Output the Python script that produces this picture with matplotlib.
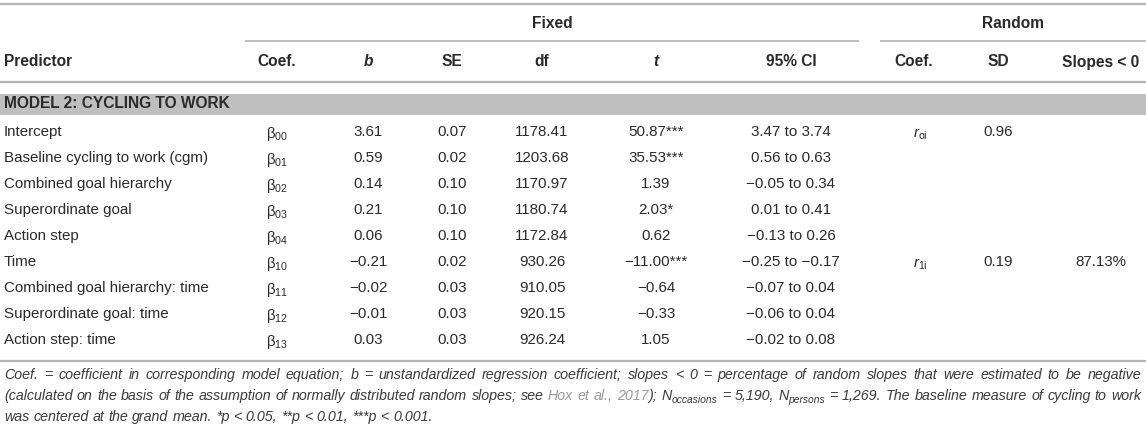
import matplotlib
matplotlib.use("Agg")
import matplotlib.pyplot as plt

W, H = 1146, 432

predictors = ["Intercept", "Baseline cycling to work (cgm)", "Combined goal hierarchy",
              "Superordinate goal", "Action step", "Time", "Combined goal hierarchy: time",
              "Superordinate goal: time", "Action step: time"]
coef_idx = ["00", "01", "02", "03", "04", "10", "11", "12", "13"]
b_vals = ["3.61", "0.59", "0.14", "0.21", "0.06", "\u22120.21", "\u22120.02", "\u22120.01", "0.03"]
se_vals = ["0.07", "0.02", "0.10", "0.10", "0.10", "0.02", "0.03", "0.03", "0.03"]
df_vals = ["1178.41", "1203.68", "1170.97", "1180.74", "1172.84", "930.26", "910.05", "920.15", "926.24"]
t_vals = ["50.87***", "35.53***", "1.39", "2.03*", "0.62", "\u221211.00***", "\u22120.64", "\u22120.33", "1.05"]
ci_vals = ["3.47 to 3.74", "0.56 to 0.63", "\u22120.05 to 0.34", "0.01 to 0.41", "\u22120.13 to 0.26",
           "\u22120.25 to \u22120.17", "\u22120.07 to 0.04", "\u22120.06 to 0.04", "\u22120.02 to 0.08"]
rand_coef = ["oi", "", "", "", "", "1i", "", "", ""]
sd_vals = ["0.96", "", "", "", "", "0.19", "", "", ""]
slopes_vals = ["", "", "", "", "", "87.13%", "", "", ""]

section_title = "MODEL 2: CYCLING TO WORK"

plt.rcParams["font.family"] = ["Liberation Sans", "DejaVu Sans"]
plt.rcParams["mathtext.fontset"] = "custom"
plt.rcParams["mathtext.rm"] = "Liberation Sans"
plt.rcParams["mathtext.it"] = "Liberation Sans:italic"
plt.rcParams["mathtext.default"] = "regular"

TXT = "#2a2a2a"
LINE = "#b3b3b3"
FS = 10.9
FSB = 11.2

fig = plt.figure(figsize=(W / 100, H / 100), dpi=100)
ax = fig.add_axes([0, 0, 1, 1])
ax.set_xlim(0, W)
ax.set_ylim(H, 0)
ax.axis("off")

# rules and section band
ax.plot([0, W], [4, 4], color=LINE, lw=1.6, solid_capstyle="butt")
ax.plot([245, 859], [41, 41], color=LINE, lw=1.2, solid_capstyle="butt")
ax.plot([880, W], [41, 41], color=LINE, lw=1.2, solid_capstyle="butt")
ax.plot([0, W], [81.5, 81.5], color=LINE, lw=1.6, solid_capstyle="butt")
ax.plot([0, W], [361, 361], color=LINE, lw=1.6, solid_capstyle="butt")
ax.fill_between([0, W], 93.5, 115, color="#bfbfbf", lw=0)

# headers
ax.text(552, 23, "Fixed", ha="center", va="center", fontsize=FSB, weight="bold", color=TXT)
ax.text(1013, 23, "Random", ha="center", va="center", fontsize=FSB, weight="bold", color=TXT)
hy = 62
ax.text(4, hy, "Predictor", ha="left", va="center", fontsize=FSB, weight="bold", color=TXT)
cols = {"coef": 277, "b": 368, "se": 452, "df": 542, "t": 656, "ci": 791,
        "rc": 914, "sd": 998, "sl": 1101}
hdr = [("coef", "Coef.", "normal"), ("b", "b", "italic"), ("se", "SE", "normal"),
       ("df", "df", "normal"), ("t", "t", "italic"), ("ci", "95% CI", "normal"),
       ("rc", "Coef.", "normal"), ("sd", "SD", "normal"), ("sl", "Slopes < 0", "normal")]
for key, label, style in hdr:
    ax.text(cols[key], hy, label, ha="center", va="center", fontsize=FSB,
            weight="bold", style=style, color=TXT)

ax.text(4, 104, section_title, ha="left", va="center", fontsize=FSB, weight="bold", color=TXT)

# body rows
y0, dy = 132, 26
for i, name in enumerate(predictors):
    y = y0 + i * dy
    ax.text(4, y, name, ha="left", va="center", fontsize=FS, color=TXT)
    ax.text(cols["coef"], y + 2, r"$\beta_{%s}$" % coef_idx[i], ha="center", va="center",
            fontsize=FS, color=TXT)
    for key, vals in [("b", b_vals), ("se", se_vals), ("df", df_vals), ("t", t_vals),
                      ("ci", ci_vals), ("sd", sd_vals), ("sl", slopes_vals)]:
        if vals[i]:
            ax.text(cols[key], y, vals[i], ha="center", va="center", fontsize=FS, color=TXT)
    if rand_coef[i]:
        ax.text(cols["rc"] + 6, y + 2, r"$\mathit{r}_{%s}$" % rand_coef[i], ha="center",
                va="center", fontsize=FS, color=TXT)

# footnote (justified like the journal layout)
renderer = fig.canvas.get_renderer()
FOOT = "#3a3a3a"

line1 = [("Coef. = coefficient in corresponding model equation; b = unstandardized regression "
          "coefficient; slopes < 0 = percentage of random slopes that were estimated to be negative", "n")]
line2 = [("(calculated on the basis of the assumption of normally distributed random slopes; see ", "n"),
         ("Hox et al., 2017", "link"), ("); N", "n"), ("occasions", "sub"), (" = 5,190, N", "n"),
         ("persons", "sub"), (" = 1,269. The baseline measure of cycling to work", "n")]
line3 = [("was centered at the grand mean. *p < 0.05, **p < 0.01, ***p < 0.001.", "n")]


def tokenize(runs):
    toks = []
    space = False
    for s, kind in runs:
        for j, p in enumerate(s.split(" ")):
            if j > 0:
                space = True
            if p:
                toks.append([p, kind, space])
                space = False
    return toks


def make_tokens(runs, size):
    toks = tokenize(runs)
    out = []
    for p, kind, sp in toks:
        fsz = size * 0.72 if kind == "sub" else size
        col = "#9a9a9a" if kind == "link" else FOOT
        t = ax.text(0, 0, p, ha="left", va="baseline", fontsize=fsz, style="italic", color=col)
        out.append((t, kind, sp, t.get_window_extent(renderer).width))
    return out


def space_width(size):
    a = ax.text(0, 0, "x x", fontsize=size, style="italic")
    b = ax.text(0, 0, "xx", fontsize=size, style="italic")
    w = a.get_window_extent(renderer).width - b.get_window_extent(renderer).width
    a.remove()
    b.remove()
    return w


def natural_width(toks, sw):
    return sum(w for _, _, _, w in toks) + sw * sum(1 for _, _, sp, _ in toks if sp)


x_left, x_right = 4, 1141
lines = [line1, line2, line3]

# pick the size so the widest line fits with plain spacing
probe_sw = space_width(10)
widest = 0
for ln in lines:
    tk = make_tokens(ln, 10)
    widest = max(widest, natural_width(tk, probe_sw))
    for t, _, _, _ in tk:
        t.remove()
ffs = 10 * (x_right - x_left) / widest * 0.995
sw = space_width(ffs)

for k, (ln, y) in enumerate(zip(lines, [379, 400, 421])):
    toks = make_tokens(ln, ffs)
    n_sp = sum(1 for _, _, sp, _ in toks if sp)
    gap = sw
    if k < len(lines) - 1 and n_sp:
        gap = sw + ((x_right - x_left) - natural_width(toks, sw)) / n_sp
    x = x_left
    for t, kind, sp, w in toks:
        if sp:
            x += gap
        t.set_position((x, y + 3 if kind == "sub" else y))
        x += w

fig.savefig("out.png", dpi=100)
